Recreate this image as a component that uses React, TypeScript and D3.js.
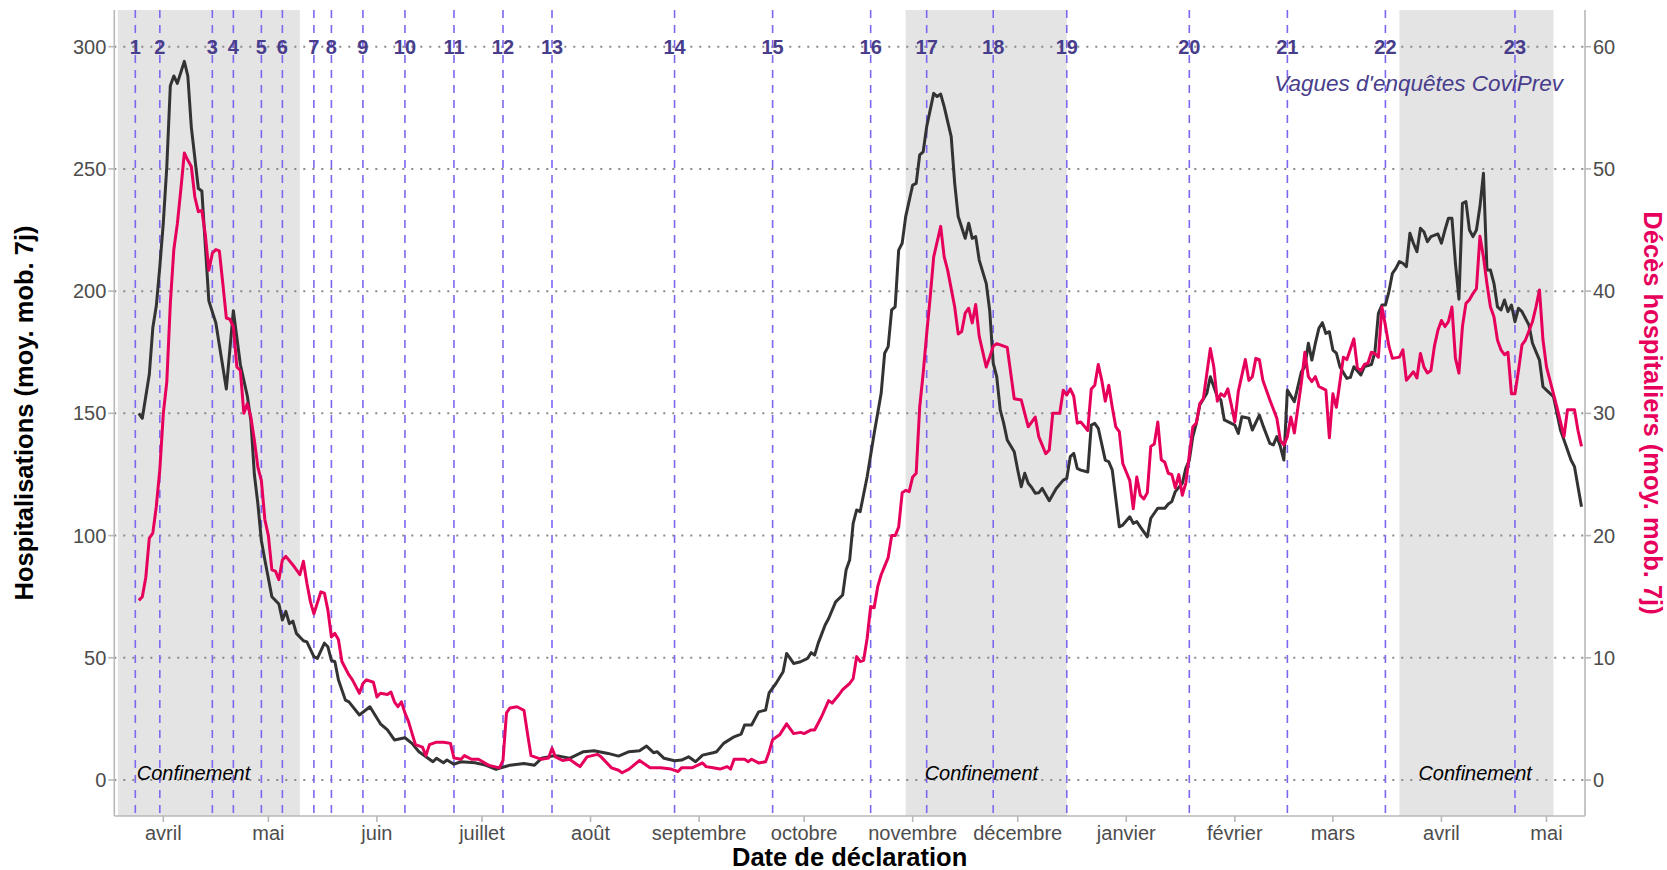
import React from 'react';
import * as d3 from 'd3';

const WIDTH = 1667;
const HEIGHT = 870;
const FONT = '"Liberation Sans", Arial, Helvetica, sans-serif';

// confinement periods (grey bands)
const confinementStart = ['2020-03-19', '2020-10-30', '2021-03-20'];
const confinementEnd = ['2020-05-10', '2020-12-15', '2021-05-03'];

// CoviPrev survey waves
const waveDates = [
  '2020-03-24', '2020-03-31', '2020-04-15', '2020-04-21', '2020-04-29', '2020-05-05',
  '2020-05-14', '2020-05-19', '2020-05-28', '2020-06-09', '2020-06-23', '2020-07-07',
  '2020-07-21', '2020-08-25', '2020-09-22', '2020-10-20', '2020-11-05', '2020-11-24',
  '2020-12-15', '2021-01-19', '2021-02-16', '2021-03-16', '2021-04-22',
];
const waveLabels = ['1', '2', '3', '4', '5', '6', '7', '8', '9', '10', '11', '12', '13', '14', '15', '16', '17', '18', '19', '20', '21', '22', '23'];

const monthTicks = [
  '2020-04-01', '2020-05-01', '2020-06-01', '2020-07-01', '2020-08-01', '2020-09-01', '2020-10-01',
  '2020-11-01', '2020-12-01', '2021-01-01', '2021-02-01', '2021-03-01', '2021-04-01', '2021-05-01',
];
const monthLabels = ['avril', 'mai', 'juin', 'juillet', 'août', 'septembre', 'octobre', 'novembre', 'décembre', 'janvier', 'février', 'mars', 'avril', 'mai'];

const hospTicks = [0, 50, 100, 150, 200, 250, 300];
const decesTicks = [0, 10, 20, 30, 40, 50, 60];

// [days since 2020-04-01, hospitalisations (moy. mob. 7j)]
const hospitalisations: [number, number][] = [
  [-7, 150], [-6, 148], [-4, 166], [-3, 185], [-2, 194], [-1, 210], [0, 228], [1, 251], [2, 284], [3, 288], [4, 285],
  [6, 294], [7, 288], [8, 267], [10, 242], [11, 241], [13, 196], [15, 187], [18, 160], [20, 192], [22, 170], [24, 157],
  [25, 147], [26, 125], [27, 113], [28, 98], [29, 90], [31, 75], [33, 72], [34, 65.5], [35, 69], [36, 64], [37, 65],
  [38, 60], [40, 57], [41, 56.5], [43, 50.5], [44, 49.8], [46, 56], [47, 54.5], [48, 49], [49, 48.4], [50, 41],
  [52, 32.7], [53, 32], [56, 26.6], [59, 30], [62, 23], [64, 20.5], [66, 16.4], [69, 17.3], [71, 15], [73, 11.6],
  [77, 7.5], [78, 8.9], [80, 7.1], [81, 8.2], [83, 6.5], [85, 7.5], [89, 7.1], [92, 6.1], [95, 4.4], [99, 6.1],
  [103, 6.8], [106, 6.1], [108, 8.9], [111, 9.8], [113, 9.8], [116, 8.9], [120, 11.6], [123, 12], [127, 10.9],
  [130, 9.8], [133, 11.6], [136, 12], [138, 13.9], [140, 11.2], [141, 11.6], [143, 8.9], [146, 7.9], [148, 8.2],
  [150, 9.5], [152, 7.5], [154, 10.2], [157, 11.2], [158, 11.6], [160, 15], [163, 17.7], [165, 18.8], [166, 22.5],
  [168, 22.5], [170, 27.9], [172, 28.6], [173, 35.7], [175, 39.6], [177, 44.3], [178, 51.8], [180, 47.7], [182, 48.4],
  [184, 49.8], [185, 52.1], [186, 51.1], [187, 55.9], [189, 63.4], [190, 66.1], [192, 72.9], [194, 75.7], [195, 86],
  [196, 90], [197, 105], [198, 110.5], [199, 109.8], [201, 124.1], [203, 141.8], [205, 158.2], [206, 174.6],
  [207, 177.3], [208, 192.3], [209, 193.6], [210, 216.8], [211, 219.6], [212, 230.5], [214, 243.4], [215, 244.1],
  [216, 255.7], [217, 257], [218, 267.3], [220, 280.9], [221, 279.6], [222, 280.6], [223, 275.5], [225, 263.2],
  [226, 244.1], [227, 230.5], [229, 221.6], [230, 227.8], [231, 221.6], [232, 222.3], [233, 212.7], [235, 203.2],
  [236, 192], [237, 170.5], [238, 165], [239, 151.4], [240, 145.9], [241, 139.1], [243, 134.3], [244, 126.8],
  [245, 120], [246, 125.5], [247, 121.4], [248, 119.7], [249, 117.3], [250, 117.5], [251, 119.3], [253, 114.3],
  [255, 119.3], [257, 122.7], [258, 123.4], [259, 132.3], [260, 133.6], [261, 127.5], [262, 126.8], [264, 126],
  [265, 145.2], [266, 145.9], [267, 143.9], [269, 130.9], [270, 130.2], [271, 126.8], [273, 103.6], [274, 104.3],
  [276, 107.7], [277, 105], [278, 105.7], [279, 103.6], [281, 99.5], [282, 107.1], [284, 111.2], [286, 111.2],
  [287, 112.9], [288, 113.9], [289, 118], [291, 121.4], [292, 127.5], [293, 130.9], [294, 140.5], [295, 145.9],
  [296, 153.4], [298, 158.2], [299, 165], [301, 156.8], [302, 155.5], [303, 147.3], [304, 146.6], [306, 145.2],
  [307, 141.8], [308, 148.6], [310, 148], [311, 143.2], [313, 149.3], [314, 145.2], [316, 137.7], [317, 137.1],
  [318, 140.5], [319, 136.4], [320, 130.9], [321, 159.5], [323, 154.8], [325, 167], [326, 169.1], [327, 178.7],
  [328, 171.8], [329, 178.7], [330, 184.8], [331, 187.1], [332, 182.7], [333, 183.4], [334, 175.9], [335, 174.6],
  [336, 169.1], [338, 164.3], [339, 164.7], [340, 169.1], [342, 165.7], [343, 169.1], [345, 170], [346, 175],
  [347, 190.9], [348, 194.3], [349, 194.3], [350, 199.8], [351, 207.3], [352, 209.3], [353, 212.1], [354, 211.4],
  [355, 210], [356, 223.7], [357, 219.6], [358, 216.1], [359, 225.7], [360, 224.3], [361, 220.2], [362, 222.3],
  [364, 223.4], [365, 219.6], [366, 225], [367, 229.8], [368, 229.8], [369, 211.4], [370, 196.7], [371, 235.9],
  [372, 236.6], [373, 225], [374, 222.3], [375, 225], [376, 234.6], [377, 248.2], [378, 208.6], [379, 208.6],
  [380, 203.2], [381, 193.6], [382, 192.3], [383, 196.4], [384, 191.6], [385, 194.3], [386, 187.5], [387, 193],
  [388, 191.6], [390, 186.1], [391, 178.7], [393, 171.8], [394, 160.9], [395, 159.5], [397, 156.8], [398, 150],
  [399, 143.2], [401, 135], [402, 130.9], [403, 128.2], [404, 120], [405, 111.8],
];

// [days since 2020-04-01, décès hospitaliers (moy. mob. 7j)]
const deces: [number, number][] = [
  [-7, 14.7], [-6, 15.0], [-5, 16.6], [-4, 19.8], [-3, 20.2], [-2, 22.4], [-1, 25.4], [0, 30.0], [1, 32.6], [2, 39.0],
  [3, 43.4], [4, 45.5], [5, 48.3], [6, 51.3], [7, 50.7], [8, 50.2], [9, 47.7], [10, 46.5], [11, 46.6], [12, 44.6],
  [13, 41.7], [14, 43.1], [15, 43.4], [16, 43.3], [17, 40.6], [18, 37.8], [19, 37.7], [20, 37.1], [21, 33.8],
  [22, 33.5], [23, 30.0], [24, 30.8], [25, 29.7], [26, 27.8], [27, 25.6], [28, 24.5], [29, 21.3], [30, 20.0],
  [31, 17.2], [32, 17.1], [33, 16.4], [34, 18.0], [35, 18.3], [37, 17.6], [39, 16.8], [40, 17.9], [41, 16.1],
  [42, 14.6], [43, 13.6], [44, 14.5], [45, 15.4], [46, 15.3], [47, 13.9], [48, 11.7], [49, 12.0], [50, 11.5],
  [51, 9.7], [53, 8.6], [54, 8.2], [56, 7.1], [57, 7.9], [58, 8.2], [60, 8.0], [61, 6.8], [62, 7.1], [64, 7.0],
  [65, 7.2], [66, 6.4], [67, 6.0], [68, 6.4], [69, 5.5], [70, 4.8], [72, 2.9], [74, 2.7], [75, 2.0], [76, 2.9],
  [78, 3.1], [80, 3.1], [82, 3.0], [83, 1.8], [85, 1.7], [86, 2.0], [88, 1.7], [90, 1.7], [93, 1.2], [96, 1.0],
  [97, 1.6], [98, 5.5], [99, 5.9], [101, 6.0], [103, 5.7], [104, 3.8], [105, 2.0], [107, 1.8], [108, 1.7],
  [110, 1.8], [111, 2.6], [112, 1.9], [114, 1.6], [116, 1.7], [118, 1.3], [119, 1.1], [121, 1.9], [124, 2.1],
  [125, 1.9], [128, 1.0], [130, 0.8], [131, 0.6], [133, 0.9], [136, 1.6], [139, 1.0], [142, 1.0], [145, 0.9],
  [147, 0.7], [148, 1.0], [151, 1.0], [154, 1.4], [155, 1.1], [157, 1.0], [159, 0.9], [161, 1.1], [162, 0.9],
  [163, 1.7], [166, 1.7], [167, 1.5], [168, 1.7], [170, 1.4], [172, 1.5], [173, 2.3], [174, 3.3], [176, 3.7],
  [178, 4.6], [180, 3.8], [182, 3.9], [183, 3.8], [185, 4.1], [186, 4.1], [188, 5.2], [190, 6.5], [191, 6.3],
  [193, 7.0], [194, 7.4], [196, 7.9], [197, 8.3], [198, 10.1], [199, 9.7], [200, 9.8], [201, 11.6], [202, 14.2],
  [203, 14.1], [204, 15.8], [205, 16.8], [206, 17.5], [207, 18.2], [208, 20.0], [209, 20.0], [210, 20.7],
  [211, 23.5], [212, 23.7], [213, 23.6], [214, 24.8], [215, 25.1], [216, 30.5], [217, 33.3], [218, 36.5],
  [219, 39.5], [220, 42.8], [222, 45.3], [223, 42.8], [224, 41.7], [226, 38.7], [227, 36.5], [228, 36.7],
  [229, 38.2], [230, 38.6], [231, 37.4], [232, 38.9], [233, 36.3], [235, 33.8], [236, 34.6], [237, 35.5],
  [238, 35.7], [240, 35.5], [241, 35.4], [243, 31.2], [245, 31.1], [246, 30.0], [247, 28.9], [249, 29.7],
  [250, 28.1], [252, 26.7], [253, 27.0], [254, 30.0], [256, 30.0], [257, 31.9], [258, 31.5], [259, 32.0],
  [260, 31.4], [261, 29.2], [262, 29.3], [264, 28.6], [265, 32.0], [266, 32.3], [267, 34.0], [268, 32.7],
  [269, 31.0], [270, 32.3], [271, 30.5], [272, 28.9], [273, 28.5], [274, 25.9], [276, 24.5], [277, 22.2],
  [278, 24.8], [279, 23.3], [280, 23.0], [281, 23.5], [282, 27.3], [283, 27.5], [284, 29.3], [285, 26.2],
  [286, 26.0], [287, 25.1], [288, 25.0], [289, 23.9], [290, 25.0], [291, 23.3], [292, 24.3], [294, 28.9],
  [295, 29.2], [296, 30.8], [297, 31.2], [299, 35.3], [300, 33.8], [301, 31.0], [302, 31.6], [303, 31.4],
  [304, 32.0], [305, 30.7], [306, 29.3], [307, 31.8], [309, 34.4], [310, 32.7], [311, 33.0], [312, 34.5],
  [313, 34.4], [314, 32.7], [316, 31.1], [318, 29.6], [319, 27.8], [320, 27.4], [321, 28.1], [322, 29.7],
  [323, 28.4], [325, 32.5], [326, 35.0], [327, 33.0], [328, 32.6], [329, 33.0], [330, 32.2], [332, 31.9],
  [333, 28.0], [334, 31.6], [335, 30.5], [337, 34.6], [338, 34.4], [340, 36.1], [341, 33.7], [342, 33.5],
  [343, 34.0], [344, 34.1], [345, 35.0], [346, 34.9], [347, 34.6], [348, 38.7], [349, 37.2], [350, 35.5],
  [351, 34.5], [353, 34.6], [354, 35.2], [355, 32.7], [357, 33.4], [358, 32.9], [359, 34.9], [360, 33.8],
  [361, 33.3], [362, 33.5], [363, 35.5], [364, 36.8], [365, 37.6], [366, 37.1], [367, 37.5], [368, 38.7],
  [369, 34.5], [370, 33.3], [371, 37.1], [372, 39.0], [373, 39.3], [374, 39.8], [375, 40.2], [376, 44.5],
  [377, 42.8], [378, 40.6], [379, 38.7], [380, 37.9], [381, 36.0], [382, 35.2], [383, 34.8], [384, 35.0],
  [385, 31.6], [386, 31.6], [387, 33.5], [388, 35.6], [389, 36.0], [391, 37.5], [392, 38.7], [393, 40.1],
  [394, 36.0], [395, 33.8], [397, 31.6], [398, 30.5], [400, 28.1], [401, 30.3], [403, 30.3], [404, 28.6],
  [405, 27.3],
];

const parseDay = (s: string) => new Date(s + 'T00:00:00Z');
const fromOrigin = (d: number) => new Date(Date.UTC(2020, 3, 1 + d));

const App = () => {
  const margin = { top: 10, right: 82, bottom: 54, left: 114.3 };
  const innerBottom = HEIGHT - margin.bottom;
  const innerRight = WIDTH - margin.right;

  const x = d3.scaleUtc()
    .domain([parseDay('2020-03-18'), parseDay('2021-05-12')])
    .range([margin.left, innerRight]);
  const yHosp = d3.scaleLinear().domain([-14.7, 315]).range([innerBottom, margin.top]);
  const yDeces = d3.scaleLinear().domain([-2.94, 63]).range([innerBottom, margin.top]);

  const hospLine = d3.line<[number, number]>()
    .x(d => x(fromOrigin(d[0])))
    .y(d => yHosp(d[1]));
  const decesLine = d3.line<[number, number]>()
    .x(d => x(fromOrigin(d[0])))
    .y(d => yDeces(d[1]));

  const midX = (margin.left + innerRight) / 2;
  const midY = (margin.top + innerBottom) / 2;
  const axisGrey = '#b8b8b8';
  const tickText = '#4d4d4d';
  const waveColor = '#483d8b';
  const red = '#e6005c';

  return (
    <div style={{ position: 'absolute', left: 0, top: 0 }}>
      <svg width={WIDTH} height={HEIGHT} style={{ display: 'block', background: 'white', fontFamily: FONT }}>
        {/* confinement bands */}
        {confinementStart.map((s, i) => (
          <rect key={'c' + i}
            x={x(parseDay(s))}
            y={margin.top}
            width={x(parseDay(confinementEnd[i])) - x(parseDay(s))}
            height={innerBottom - margin.top}
            fill="#e4e4e4" />
        ))}

        {/* dotted horizontal grid */}
        {hospTicks.map(t => (
          <line key={'g' + t} x1={margin.left} x2={innerRight} y1={yHosp(t)} y2={yHosp(t)}
            stroke="#8a8a8a" strokeWidth={2} strokeDasharray="2 7" />
        ))}

        {/* survey waves */}
        {waveDates.map((w, i) => (
          <line key={'w' + i} x1={x(parseDay(w))} x2={x(parseDay(w))} y1={margin.top} y2={innerBottom}
            stroke="#7b68ee" strokeWidth={1.6} strokeDasharray="8 7" />
        ))}

        {/* series */}
        <path d={hospLine(hospitalisations) || ''} fill="none" stroke="#333333" strokeWidth={3} strokeLinejoin="round" />
        <path d={decesLine(deces) || ''} fill="none" stroke={red} strokeWidth={3} strokeLinejoin="round" />

        {/* wave numbers */}
        {waveDates.map((w, i) => (
          <text key={'wl' + i} x={x(parseDay(w))} y={yHosp(300)} dy="0.35em" textAnchor="middle"
            fontSize={20} fontWeight="bold" fill={waveColor}>{waveLabels[i]}</text>
        ))}
        <text x={innerRight - 22} y={yHosp(300) + 44} textAnchor="end" fontSize={22.5} fontStyle="italic" fill={waveColor}>
          Vagues d'enquêtes CoviPrev
        </text>

        {confinementStart.map((s, i) => (
          <text key={'ct' + i} x={x(parseDay(s)) + 19} y={yHosp(0)} fontSize={20} fontStyle="italic" fill="#000">
            Confinement
          </text>
        ))}

        {/* axes lines */}
        <line x1={margin.left} x2={margin.left} y1={margin.top} y2={innerBottom} stroke={axisGrey} strokeWidth={1.6} />
        <line x1={innerRight} x2={innerRight} y1={margin.top} y2={innerBottom} stroke={axisGrey} strokeWidth={1.6} />
        <line x1={margin.left} x2={innerRight} y1={innerBottom} y2={innerBottom} stroke={axisGrey} strokeWidth={1.6} />

        {/* left axis */}
        {hospTicks.map(t => (
          <g key={'lt' + t}>
            <line x1={margin.left - 6} x2={margin.left} y1={yHosp(t)} y2={yHosp(t)} stroke={axisGrey} strokeWidth={1.6} />
            <text x={margin.left - 8} y={yHosp(t)} dy="0.35em" textAnchor="end" fontSize={20} fill={tickText}>{t}</text>
          </g>
        ))}

        {/* right axis */}
        {decesTicks.map(t => (
          <g key={'rt' + t}>
            <line x1={innerRight} x2={innerRight + 6} y1={yDeces(t)} y2={yDeces(t)} stroke={axisGrey} strokeWidth={1.6} />
            <text x={innerRight + 8} y={yDeces(t)} dy="0.35em" textAnchor="start" fontSize={20} fill={tickText}>{t}</text>
          </g>
        ))}

        {/* bottom axis */}
        {monthTicks.map((m, i) => (
          <g key={'bt' + m}>
            <line x1={x(parseDay(m))} x2={x(parseDay(m))} y1={innerBottom} y2={innerBottom + 6} stroke={axisGrey} strokeWidth={1.6} />
            <text x={x(parseDay(m))} y={innerBottom + 24} textAnchor="middle" fontSize={20} fill={tickText}>{monthLabels[i]}</text>
          </g>
        ))}

        {/* titles */}
        <text x={midX} y={HEIGHT - 4} textAnchor="middle" fontSize={25.5} fontWeight="bold" fill="#000">Date de déclaration</text>
        <text transform={`translate(33, ${midY}) rotate(-90)`} textAnchor="middle" fontSize={25.5} fontWeight="bold" fill="#000">
          Hospitalisations (moy. mob. 7j)
        </text>
        <text transform={`translate(1644, ${midY}) rotate(90)`} textAnchor="middle" fontSize={25.5} fontWeight="bold" fill={red}>
          Décès hospitaliers (moy. mob. 7j)
        </text>
      </svg>
    </div>
  );
};

export default App;
